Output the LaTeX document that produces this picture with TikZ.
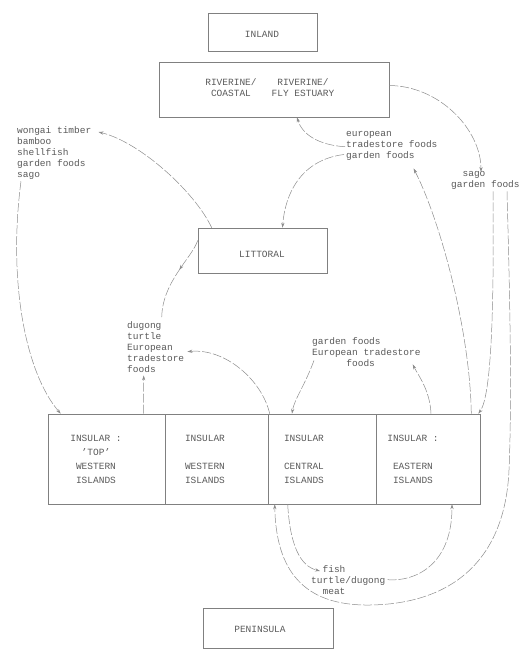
\documentclass[tikz,border=0pt]{standalone}
\usepackage{fontspec}
\setmainfont{Liberation Mono}
\usetikzlibrary{arrows.meta,decorations.markings}
\definecolor{txt}{gray}{0.35}
\definecolor{ln}{gray}{0.55}
\definecolor{bx}{gray}{0.5}
\begin{document}
\begin{tikzpicture}[x=1pt,y=-1pt,
  box/.style={draw=bx, line width=0.6pt, inner sep=0pt},
  lab/.style={font=\fontsize{9.5}{11}\selectfont, text=txt, align=left, anchor=north west, inner sep=0pt},
  ctr/.style={font=\fontsize{9.5}{11}\selectfont, text=txt, align=center, inner sep=0pt},
  ins/.style={font=\fontsize{9.5}{14}\selectfont, text=txt, align=center, inner sep=0pt},
  conn/.style={draw=ln, line width=0.5pt, dash pattern=on 9pt off 2pt},
  arr/.style={conn, -{Stealth[length=5pt,width=3.2pt]}},
  midarr/.style={conn, postaction=decorate, decoration={markings, mark=at position #1 with {\arrow{Stealth[length=5pt,width=3.2pt]}}}}]
\useasboundingbox (0,0) rectangle (520,649);
% boxes
\node[box, minimum width=109pt, minimum height=38pt] (inland) at (262.5,32.5) {};
\node[ctr] (inlandt) at (262,34) {INLAND};
\node[box, minimum width=230pt, minimum height=55pt] (riv) at (274,89.5) {};
\node[ctr] (rivc) at (231,88) {RIVERINE/\\COASTAL};
\node[ctr] (rivf) at (303,88) {RIVERINE/\\FLY ESTUARY};
\node[box, minimum width=129pt, minimum height=45pt] (lit) at (262.5,250.5) {};
\node[ctr] (litt) at (262,254) {LITTORAL};
\node[box, minimum width=117pt, minimum height=90pt] (b1) at (106.5,459) {};
\node[box, minimum width=103pt, minimum height=90pt] (b2) at (216.5,459) {};
\node[box, minimum width=108pt, minimum height=90pt] (b3) at (322,459) {};
\node[box, minimum width=104pt, minimum height=90pt] (b4) at (428,459) {};
\node[ins] (b1t) at (96,459) {INSULAR :\\'TOP'\\WESTERN\\ISLANDS};
\node[ins] (b2t) at (205,459) {INSULAR\\\strut\\WESTERN\\ISLANDS};
\node[ins] (b3t) at (304,459) {INSULAR\\\strut\\CENTRAL\\ISLANDS};
\node[ins] (b4t) at (413,459) {INSULAR :\\\strut\\EASTERN\\ISLANDS};
\node[box, minimum width=130pt, minimum height=40pt] (pen) at (268,628) {};
\node[ctr] (pent) at (260,629) {PENINSULA};
% labels
\node[lab] (wong) at (17,126) {wongai timber\\bamboo\\shellfish\\garden foods\\sago};
\node[lab] (euro) at (346,131) {european\\tradestore foods\\garden foods};
\node[lab] (sago) at (451,171) {\phantom{xx}sago\\garden foods};
\node[lab] (dug) at (127,321) {dugong\\turtle\\European\\tradestore\\foods};
\node[lab] (gard) at (312,337) {garden foods\\European tradestore\\\phantom{xxxxxx}foods};
\node[lab] (fish) at (311,565) {\phantom{xx}fish\\turtle/dugong\\\phantom{xx}meat};
% anchor coordinates
\coordinate (litTL) at ([xshift=14pt]lit.north west);
\coordinate (litW) at ([yshift=10pt]lit.west);
\coordinate (wongE) at ([xshift=7pt,yshift=-6pt]wong.north east);
\coordinate (wongS) at ([xshift=4pt,yshift=-2pt]wong.south west);
\coordinate (b1N) at ([xshift=13pt]b1.north west);
\coordinate (b1Nr) at ([xshift=-22pt]b1.north east);
\coordinate (b3NW) at ([xshift=2pt]b3.north west);
\coordinate (dugE) at ([xshift=3pt,yshift=-5pt]dug.east);
\coordinate (dugS) at ([xshift=-12pt,yshift=-3pt]dug.south);
\coordinate (dugN) at ([xshift=6pt,yshift=3pt]dug.north);
\coordinate (euroW) at ([xshift=-1pt,yshift=-1pt]euro.west);
\coordinate (euroSW) at ([xshift=-2pt,yshift=6pt]euro.south west);
\coordinate (euroS) at ([xshift=-24pt,yshift=-8pt]euro.south east);
\coordinate (rivB) at ([xshift=23pt]riv.south);
\coordinate (litN) at ([xshift=20pt]lit.north);
\coordinate (rivE) at ([yshift=4pt]riv.east);
\coordinate (sagoN) at ([xshift=30pt,yshift=-1pt]sago.north west);
\coordinate (sagoS1) at ([xshift=42pt,yshift=-2pt]sago.south west);
\coordinate (sagoS2) at ([xshift=56pt,yshift=-2pt]sago.south west);
\coordinate (b4NE) at ([xshift=-2pt]b4.north east);
\coordinate (b4Nr) at ([xshift=-9pt]b4.north east);
\coordinate (b4Nm) at ([xshift=3pt]b4.north);
\coordinate (gardW) at ([xshift=2pt,yshift=6pt]gard.south west);
\coordinate (gardE) at ([xshift=-8pt,yshift=2pt]gard.south east);
\coordinate (b3Nc) at ([xshift=-30pt]b3.north);
\coordinate (b3S1) at ([xshift=7pt]b3.south west);
\coordinate (b3S2) at ([xshift=20pt]b3.south west);
\coordinate (fishN) at ([xshift=9pt,yshift=-6pt]fish.north west);
\coordinate (fishE) at ([xshift=2pt]fish.east);
\coordinate (b4S) at ([xshift=24pt]b4.south);
\coordinate (arcA) at (509,470);
\coordinate (arcB) at (370,605);
% connectors
\draw[arr] (litTL) .. controls (195,192) and (140,142) .. (wongE);
\draw[arr] (wongS) .. controls (8,280) and (25,372) .. (b1N);
\draw[arr] (b1Nr) -- (dugS);
\draw[arr] (b3NW) .. controls (262,380) and (225,348) .. (dugE);
\draw[midarr=0.4] (litW) .. controls (192,258) and (162,282) .. (dugN);
\draw[arr] (euroW) .. controls (318,145) and (302,134) .. (rivB);
\draw[arr] (euroSW) .. controls (300,160) and (285,195) .. (litN);
\draw[arr] (b4Nr) .. controls (470,330) and (440,220) .. (euroS);
\draw[arr] (rivE) .. controls (440,86) and (481,130) .. (sagoN);
\draw[arr] (sagoS1) .. controls (494,300) and (492,395) .. (b4NE);
\draw[arr] (sagoS2) .. controls (510,300) and (512,400) .. (arcA) .. controls (505,562) and (450,604) .. (arcB) .. controls (303,606) and (276,570) .. (b3S1);
\draw[arr] (b3S2) .. controls (290,545) and (300,566) .. (fishN);
\draw[arr] (fishE) .. controls (415,582) and (452,565) .. (b4S);
\draw[arr] (b4Nm) .. controls (430,390) and (418,375) .. (gardE);
\draw[arr] (gardW) .. controls (305,385) and (294,400) .. (b3Nc);
\end{tikzpicture}
\end{document}
